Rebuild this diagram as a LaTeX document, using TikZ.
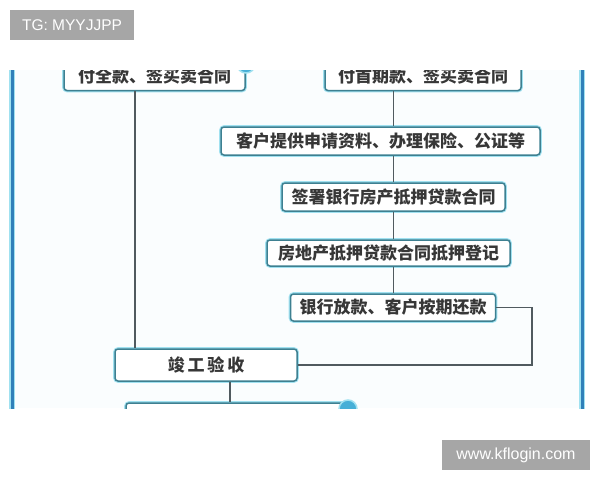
\documentclass[tikz,border=0pt]{standalone}
\usepackage{fontspec}
\setmainfont{Liberation Sans}
\newfontfamily\cjk{Noto Sans CJK SC}
\definecolor{bgc}{RGB}{250,253,254}
\definecolor{edgec}{RGB}{62,128,145}
\definecolor{glowc}{RGB}{160,225,240}
\definecolor{bluel}{RGB}{48,128,185}
\definecolor{badgec}{RGB}{70,175,215}
\definecolor{lineg}{RGB}{80,90,95}
\definecolor{txtc}{RGB}{55,55,55}
\definecolor{labg}{RGB}{166,166,166}
\tikzset{
  flowbox/.style={draw=edgec, line width=1.5pt, rounded corners=3pt, fill=white,
    preaction={draw=glowc, line width=3.6pt},
    inner sep=0pt, text=txtc, font=\cjk\bfseries\fontsize{17}{19}\selectfont},
  conn/.style={draw=lineg, line width=1.2pt},
  sideline/.style={draw=bluel, line width=3pt, preaction={draw=glowc, line width=5.5pt}},
  badge/.style={circle, fill=badgec, draw=glowc, line width=1.5pt, minimum size=18pt, inner sep=0pt},
  wm/.style={fill=labg, text=white, inner sep=0pt, font=\fontsize{15.5}{18}\selectfont}
}
\begin{document}
\begin{tikzpicture}[x=1pt,y=-1pt]
\useasboundingbox (0,0) rectangle (600,480);
\fill[white] (0,0) rectangle (600,480);
\begin{scope}
\clip (0,70.5) rectangle (600,408);
\fill[bgc] (10,70) rectangle (584,408);
\coordinate (lx) at (135,0);
\coordinate (rx) at (532,0);
\coordinate (mx) at (230,0);
\coordinate (lt) at (12,60);
\coordinate (lb) at (12,420);
\coordinate (rt) at (582,60);
\coordinate (rb) at (582,420);
\draw[sideline] (lt) -- (lb);
\draw[sideline] (rt) -- (rb);
\node[flowbox, minimum width=181pt, minimum height=29pt] (b1) at (154.5,76) {付全款、签买卖合同};
\node[flowbox, minimum width=196pt, minimum height=29pt] (b2) at (423,76) {付首期款、签买卖合同};
\node[flowbox, minimum width=319pt, minimum height=28pt] (b3) at (380.5,141) {客户提供申请资料、办理保险、公证等};
\node[flowbox, minimum width=223pt, minimum height=28pt] (b4) at (393.5,197) {签署银行房产抵押贷款合同};
\node[flowbox, minimum width=243pt, minimum height=26pt] (b5) at (388.5,253) {房地产抵押贷款合同抵押登记};
\node[flowbox, minimum width=205pt, minimum height=27pt] (b6) at (393,307.5) {银行放款、客户按期还款};
\node[flowbox, minimum width=182pt, minimum height=32pt] (b7) at (206,365) {竣\,工\,验\,收};
\node[flowbox, minimum width=222pt, minimum height=34pt] (b8) at (237,420) {};
\node[badge] (c1) at (246,64) {};
\node[badge] (c2) at (348,409) {};
\draw[conn] (b2.south -| b4) -- (b3.north -| b4);
\draw[conn] (b3.south -| b4) -- (b4.north);
\draw[conn] (b4.south) -- (b5.north -| b4);
\draw[conn] (b5.south -| b4) -- (b6.north -| b4);
\draw[conn] (b1.south -| lx) -- (b7.north -| lx);
\draw[conn] (b6.east) -- (b6.east -| rx) |- (b7.east);
\draw[conn] (b7.south -| mx) -- (b8.north -| mx);
\end{scope}
\node[wm, minimum width=124pt, minimum height=30pt] (tg) at (72,25) {TG: MYYJJPP};
\node[wm, minimum width=148pt, minimum height=30pt, font=\fontsize{16}{18}\selectfont] (kf) at (516,455) {www.kflogin.com};
\end{tikzpicture}
\end{document}
